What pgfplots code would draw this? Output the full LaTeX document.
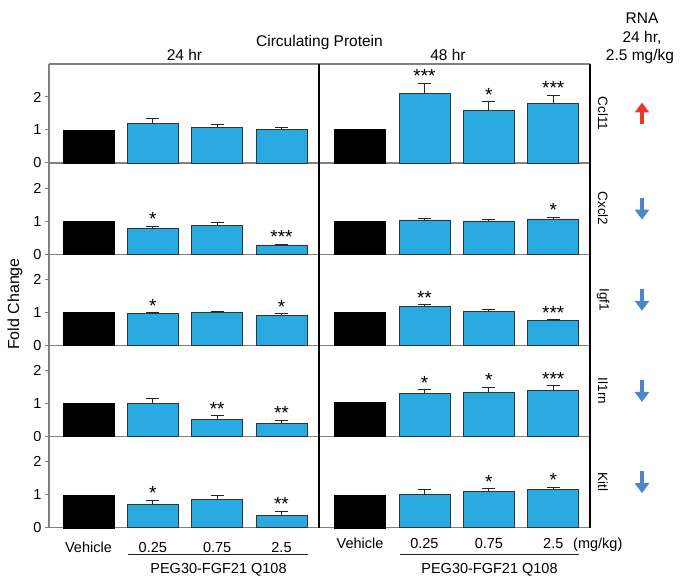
\documentclass[border=0pt]{standalone}
\usepackage{fontspec}
\setmainfont{Liberation Sans}
\usepackage{pgfplots}
\pgfplotsset{compat=1.18}
\usetikzlibrary{arrows.meta}

\definecolor{barblue}{HTML}{29AAE1}
\definecolor{axgray}{HTML}{808080}
\definecolor{upred}{HTML}{E8382B}
\definecolor{downblue}{HTML}{4A86C8}

\newcommand{\tickfont}{\fontsize{14.5}{16}\selectfont}
\newcommand{\headfont}{\fontsize{15.5}{18}\selectfont}

\tikzset{
  star/.style={anchor=base, yshift=0.5pt, inner sep=0pt, font=\fontsize{19}{19}\selectfont},
  gene/.style={rotate=-90, font=\fontsize{13.5}{15}\selectfont},
  arr/.style={line width=4pt, -{Triangle[width=14pt,length=10pt]}},
}

\pgfplotsset{
  panel/.style={scale only axis, anchor=south west, clip=false, ymin=0,
    axis x line*=bottom, xtick=\empty, major x tick style={draw=none},
    axis line style={draw=axgray, line width=1.1pt},
    xticklabel style={font=\tickfont, anchor=base, yshift=-20.5pt}},
  leftcol/.style={xmin=-0.614, xmax=3.583, width=270pt,
    axis y line*=left, ytick={0,1,2}, tick align=outside, major tick length=4pt,
    major y tick style={draw=axgray, line width=1pt},
    yticklabel style={font=\tickfont},
    /pgf/number format/assume math mode=true},
  rightcol/.style={xmin=-0.637, xmax=3.57, width=271pt, axis y line=none, ytick=\empty},
  toprow/.style={height=99pt, ymax=3},
  midrow/.style={height=91.2pt, ymax=2.7636},
  veh/.style={ybar, bar shift=0pt, bar width=0.79, fill=black, draw=black},
  trt/.style={ybar, bar shift=0pt, bar width=0.79, fill=barblue, draw=black!80, line width=0.7pt,
    error bars/y dir=plus, error bars/y explicit,
    error bars/error bar style={line width=0.9pt, black!85},
    error bars/error mark options={rotate=90, mark size=6.5pt, line width=0.9pt, black!85}},
}

\begin{document}
\begin{tikzpicture}
\useasboundingbox (0,0) rectangle (683pt,581pt);

% ---- Ccl11
\begin{axis}[panel, leftcol, toprow, at={(49pt,418pt)}]
\addplot[veh] coordinates {(0,1)};
\addplot[trt] coordinates {(1,1.21) +- (0,0.13) (2,1.07) +- (0,0.11) (3,1.03) +- (0,0.06)};
\end{axis}
\begin{axis}[panel, rightcol, toprow, at={(319pt,418pt)}]
\addplot[veh] coordinates {(0,1.02)};
\addplot[trt] coordinates {(1,2.10) +- (0,0.32) (2,1.59) +- (0,0.27) (3,1.80) +- (0,0.25)};
\node[star] at (axis cs:1,2.42) {***};
\node[star] at (axis cs:2,1.86) {*};
\node[star] at (axis cs:3,2.05) {***};
\end{axis}

% ---- Cxcl2
\begin{axis}[panel, leftcol, midrow, at={(49pt,326.8pt)}]
\addplot[veh] coordinates {(0,1)};
\addplot[trt] coordinates {(1,0.77) +- (0,0.08) (2,0.88) +- (0,0.07) (3,0.28) +- (0,0.03)};
\node[star] at (axis cs:1,0.85) {*};
\node[star] at (axis cs:3,0.31) {***};
\end{axis}
\begin{axis}[panel, rightcol, midrow, at={(319pt,326.8pt)}]
\addplot[veh] coordinates {(0,1)};
\addplot[trt] coordinates {(1,1.04) +- (0,0.03) (2,1.01) +- (0,0.03) (3,1.07) +- (0,0.05)};
\node[star] at (axis cs:3,1.12) {*};
\end{axis}

% ---- Igf1
\begin{axis}[panel, leftcol, midrow, at={(49pt,235.6pt)}]
\addplot[veh] coordinates {(0,1)};
\addplot[trt] coordinates {(1,0.96) +- (0,0.03) (2,1.01) +- (0,0.03) (3,0.91) +- (0,0.05)};
\node[star] at (axis cs:1,0.99) {*};
\node[star] at (axis cs:3,0.96) {*};
\end{axis}
\begin{axis}[panel, rightcol, midrow, at={(319pt,235.6pt)}]
\addplot[veh] coordinates {(0,1)};
\addplot[trt] coordinates {(1,1.17) +- (0,0.06) (2,1.02) +- (0,0.08) (3,0.76) +- (0,0.02)};
\node[star] at (axis cs:1,1.23) {**};
\node[star] at (axis cs:3,0.78) {***};
\end{axis}

% ---- Il1rn
\begin{axis}[panel, leftcol, midrow, at={(49pt,144.4pt)}]
\addplot[veh] coordinates {(0,1)};
\addplot[trt] coordinates {(1,1.00) +- (0,0.17) (2,0.525) +- (0,0.105) (3,0.39) +- (0,0.10)};
\node[star] at (axis cs:2,0.63) {**};
\node[star] at (axis cs:3,0.49) {**};
\end{axis}
\begin{axis}[panel, rightcol, midrow, at={(319pt,144.4pt)}]
\addplot[veh] coordinates {(0,1.03)};
\addplot[trt] coordinates {(1,1.30) +- (0,0.12) (2,1.34) +- (0,0.15) (3,1.39) +- (0,0.15)};
\node[star] at (axis cs:1,1.42) {*};
\node[star] at (axis cs:2,1.49) {*};
\node[star] at (axis cs:3,1.54) {***};
\end{axis}

% ---- Kitl
\begin{axis}[panel, leftcol, midrow, at={(49pt,53.2pt)},
    xtick={0,1,2,3}, xticklabels={Vehicle,0.25,0.75,2.5}]
\addplot[veh] coordinates {(0,1)};
\addplot[trt] coordinates {(1,0.70) +- (0,0.13) (2,0.87) +- (0,0.12) (3,0.37) +- (0,0.14)};
\node[star] at (axis cs:1,0.83) {*};
\node[star] at (axis cs:3,0.51) {**};
\end{axis}
\begin{axis}[panel, rightcol, midrow, at={(319pt,53.2pt)},
    xtick={0,1,2,3}, xticklabels={Vehicle,0.25,0.75,2.5}]
\addplot[veh] coordinates {(0,0.99)};
\addplot[trt] coordinates {(1,1.00) +- (0,0.15) (2,1.11) +- (0,0.07) (3,1.15) +- (0,0.08)};
\node[star] at (axis cs:2,1.18) {*};
\node[star] at (axis cs:3,1.23) {*};
\end{axis}

% frame
\draw[axgray, line width=1.1pt] (49pt,517pt) -- (590pt,517pt);
\draw[black, line width=1.1pt] (319pt,53.2pt) -- (319pt,517pt);
\draw[black, line width=1.1pt] (590pt,53.2pt) -- (590pt,517pt);

% headers
\node[anchor=base, font=\headfont] at (319.5pt,534pt) {Circulating Protein};
\node[anchor=base, font=\headfont] at (184.5pt,520pt) {24 hr};
\node[anchor=base, font=\headfont] at (448pt,520pt) {48 hr};
\node[anchor=base, font=\headfont] at (642pt,557pt) {RNA};
\node[anchor=base, font=\headfont] at (642pt,538.5pt) {24 hr,};
\node[anchor=base, font=\headfont] at (640pt,520pt) {2.5 mg/kg};
\node[rotate=90, font=\fontsize{16}{18}\selectfont] at (15pt,277pt) {Fold Change};

% gene labels and arrows
\node[gene] at (603pt,467.5pt) {Ccl11};
\node[gene] at (603pt,372.4pt) {Cxcl2};
\node[gene] at (603pt,281.2pt) {Igf1};
\node[gene] at (603pt,190pt) {Il1rn};
\node[gene] at (603pt,98.8pt) {Kitl};
\draw[arr, upred] (642pt,456.5pt) -- (642pt,478.5pt);
\draw[arr, downblue] (642pt,383.4pt) -- (642pt,361.4pt);
\draw[arr, downblue] (642pt,292.2pt) -- (642pt,270.2pt);
\draw[arr, downblue] (642pt,201pt) -- (642pt,179pt);
\draw[arr, downblue] (642pt,109.8pt) -- (642pt,87.8pt);

% bottom group labels
\node[anchor=base west, inner sep=0pt, font=\tickfont] at (573pt,32.7pt) {(mg/kg)};
\draw[black!85, line width=1pt] (128pt,26pt) -- (308pt,26pt);
\draw[black!85, line width=1pt] (400pt,26pt) -- (579pt,26pt);
\node[anchor=base, font=\tickfont] at (218.5pt,7pt) {PEG30-FGF21 Q108};
\node[anchor=base, font=\tickfont] at (489.5pt,7pt) {PEG30-FGF21 Q108};
\end{tikzpicture}
\end{document}
